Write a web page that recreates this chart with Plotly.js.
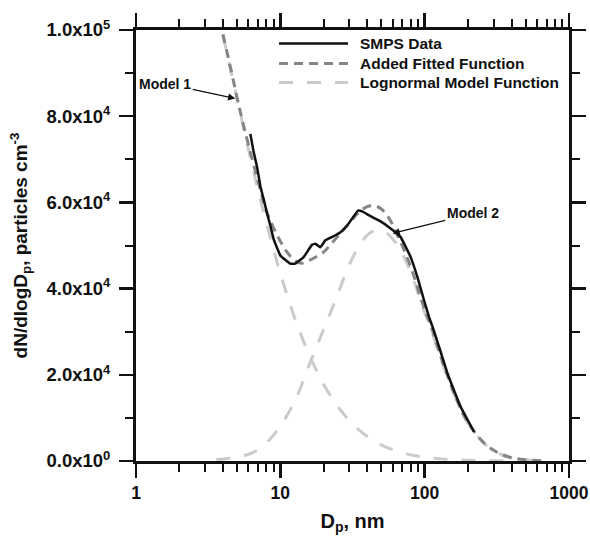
<!DOCTYPE html>
<html>
<head>
<meta charset="utf-8">
<script src="https://cdn.plot.ly/plotly-3.0.1.min.js"></script>
<style>html,body{margin:0;padding:0;background:#fff}#chart{width:590px;height:536px}</style>
</head>
<body>
<div id="chart"></div>
<script>
// ---- data ----
const smpsD = [6.2, 6.5, 6.9, 7.3, 7.7, 8.1, 8.5, 9.0, 10, 11.7, 12.7, 14.5, 16.6, 17.5, 18.9, 20.5, 22.9, 26.1, 29.6, 34.5, 36.9, 42.1, 49.5, 56.3, 68, 80, 89, 99, 107, 116, 130, 144, 160, 178, 200, 220];
const smpsN = [75900, 72100, 68200, 63500, 60500, 57400, 54800, 51400, 47700, 45800, 45800, 47300, 50200, 50400, 49600, 51200, 52000, 53100, 55000, 58100, 57900, 56800, 55600, 54300, 52000, 47300, 42700, 37300, 33500, 30200, 25000, 20300, 16300, 12500, 9300, 6730];

const fitD = [4.0, 4.5, 5.0, 5.5, 6, 7, 8, 9, 10, 11, 12.5, 14, 16, 18, 20, 22, 26, 30, 35, 40, 45, 50, 56, 65, 75, 86, 96, 110, 130, 150, 175, 200, 240, 280, 340, 400, 500, 600, 700];
const fitN = [99000, 91500, 84500, 78500, 73500, 65000, 58000, 54000, 51000, 48700, 46600, 45900, 46600, 47500, 48500, 50000, 52800, 55200, 57700, 59000, 59200, 58500, 56600, 52300, 47500, 42000, 36800, 31500, 24000, 18200, 12600, 8900, 5300, 3150, 1550, 770, 290, 105, 40];

const mode1D = [4.0, 4.5, 5.0, 5.5, 6, 7, 8, 9, 10, 11, 12.5, 14, 16, 18, 20, 23, 26, 30, 35, 40, 50, 60, 75, 90, 110, 140, 180, 230, 300, 400, 600];
const mode1N = [98900, 91100, 84200, 78000, 72400, 62900, 55300, 48900, 43500, 39100, 33400, 29000, 24300, 20700, 17700, 14400, 11900, 9400, 7200, 5700, 3750, 2620, 1650, 1110, 700, 400, 210, 110, 50, 20, 5];

const mode2D = [3.6, 4.5, 5.5, 6.5, 8, 9.5, 11, 13, 16, 19, 22, 25, 30, 35, 40, 45, 50, 56, 65, 75, 86, 96, 110, 130, 150, 175, 200, 240, 280, 340, 400, 500, 600];
const mode2N = [350, 650, 1200, 2000, 4200, 7100, 10300, 14900, 22600, 28800, 34000, 38700, 45500, 49800, 52400, 53500, 53500, 52600, 50000, 46000, 41000, 36000, 30800, 23500, 17800, 12300, 8700, 5200, 3100, 1500, 750, 280, 100];

const xTickVals = [1, 10, 100, 1000];
const xTickText = ['1', '10', '100', '1000'];
const yTickVals = [0, 20000, 40000, 60000, 80000, 100000];
const yTickText = ['0.0x10<sup>0</sup>', '2.0x10<sup>4</sup>', '4.0x10<sup>4</sup>', '6.0x10<sup>4</sup>', '8.0x10<sup>4</sup>', '1.0x10<sup>5</sup>'];
const legendNames = ['SMPS Data', 'Added Fitted Function', 'Lognormal Model Function'];

// ---- styling ----
const FONT = 'Liberation Sans, Arial, Helvetica, sans-serif';
const DARK = '#111111', MID = '#858585', LIGHT = '#cbcbcb';

const xMinor = [];
[1, 10, 100].forEach(d => { for (let k = 2; k <= 9; k++) xMinor.push(d * k); });
const yMinor = [10000, 30000, 50000, 70000, 90000];

const traces = [
  {x: mode1D, y: mode1N, mode: 'lines', name: legendNames[2], line: {color: LIGHT, width: 3, dash: '14px,14px', shape: 'spline', smoothing: 1}},
  {x: mode2D, y: mode2N, mode: 'lines', name: legendNames[2], line: {color: LIGHT, width: 3, dash: '14px,14px', shape: 'spline', smoothing: 1}},
  {x: fitD, y: fitN, mode: 'lines', name: legendNames[1], line: {color: MID, width: 3, dash: '9px,6px', shape: 'spline', smoothing: 1}},
  {x: smpsD, y: smpsN, mode: 'lines', name: legendNames[0], line: {color: DARK, width: 2.5, shape: 'spline', smoothing: 0.3}}
];

// custom legend (long line samples as in the reference)
const rowsY = [0.9687, 0.9223, 0.8782];
const sampleStyles = [
  {color: DARK, width: 2.5, dash: 'solid'},
  {color: MID, width: 3, dash: '9px,6px'},
  {color: LIGHT, width: 3, dash: '14px,14px'}
];
const shapes = rowsY.map((yy, i) => ({
  type: 'line', xref: 'paper', yref: 'paper', x0: 0.3303, x1: 0.4896, y0: yy, y1: yy,
  line: sampleStyles[i]
}));
const annotations = rowsY.map((yy, i) => ({
  xref: 'paper', yref: 'paper', x: 0.5127, y: yy, xanchor: 'left', yanchor: 'middle',
  text: legendNames[i], showarrow: false,
  font: {family: FONT, size: 15.5, color: '#111', weight: 'bold'}
}));
annotations.push({
  x: Math.log10(4.87), y: 84100, xref: 'x', yref: 'y', text: 'Model 1', showarrow: true,
  ax: -70, ay: -15, arrowhead: 2, arrowsize: 1.1, arrowwidth: 1.3, arrowcolor: '#111',
  font: {family: FONT, size: 14, color: '#111', weight: 'bold'}
});
annotations.push({
  x: Math.log10(60), y: 52800, xref: 'x', yref: 'y', text: 'Model 2', showarrow: true,
  ax: 80, ay: -20, arrowhead: 2, arrowsize: 1.1, arrowwidth: 1.3, arrowcolor: '#111',
  font: {family: FONT, size: 14, color: '#111', weight: 'bold'}
});

const layout = {
  width: 590, height: 536,
  margin: {l: 136, r: 21, t: 30, b: 75},
  paper_bgcolor: '#fff', plot_bgcolor: '#fff',
  showlegend: false,
  font: {family: FONT, color: '#111'},
  xaxis: {
    type: 'log', range: [0, 3], tickmode: 'array', tickvals: xTickVals, ticktext: xTickText,
    ticks: 'outside', ticklen: 14, tickwidth: 2.5, tickcolor: '#111',
    showline: true, linewidth: 3, linecolor: '#111', mirror: 'ticks',
    showgrid: false, zeroline: false,
    minor: {tickmode: 'array', tickvals: xMinor, ticks: 'outside', ticklen: 8, tickwidth: 2, tickcolor: '#111', showgrid: false},
    tickfont: {family: FONT, size: 17.5, weight: 'bold', color: '#111'},
    title: {text: 'D<sub>p</sub>, nm', font: {family: FONT, size: 20, weight: 'bold', color: '#111'}, standoff: 12}
  },
  yaxis: {
    range: [0, 100000], tickmode: 'array', tickvals: yTickVals, ticktext: yTickText,
    ticks: 'outside', ticklen: 14, tickwidth: 2.5, tickcolor: '#111',
    showline: true, linewidth: 3, linecolor: '#111', mirror: 'ticks',
    showgrid: false, zeroline: false, ticklabelstandoff: 5,
    minor: {tickmode: 'array', tickvals: yMinor, ticks: 'outside', ticklen: 8, tickwidth: 2, tickcolor: '#111', showgrid: false},
    tickfont: {family: FONT, size: 18.5, weight: 'bold', color: '#111'},
    title: {text: 'dN/dlogD<sub>p</sub>, particles cm<sup>-3</sup>', font: {family: FONT, size: 19, weight: 'bold', color: '#111'}, standoff: 14}
  },
  shapes: shapes,
  annotations: annotations
};

Plotly.newPlot('chart', traces, layout, {staticPlot: true, displayModeBar: false});
</script>
</body>
</html>
